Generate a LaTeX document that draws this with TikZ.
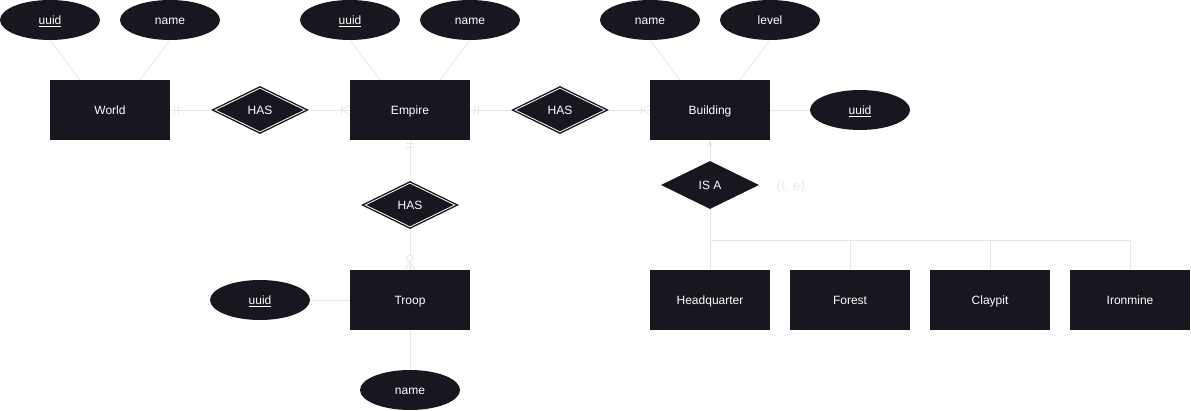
\documentclass[tikz,border=0pt]{standalone}
\usepackage{fontspec}
\setmainfont{Liberation Sans}
\usetikzlibrary{shapes.geometric,arrows.meta,calc}
\definecolor{ink}{HTML}{18161F}
\definecolor{edge}{HTML}{E6E6E6}
\definecolor{faint}{HTML}{EBEBEB}
\begin{document}
\begin{tikzpicture}[x=1pt,y=-1pt,
  font=\fontsize{12}{14}\selectfont,
  lbl/.style={text height=10.5pt, text depth=1pt},
  entity/.style={rectangle, fill=ink, minimum width=120pt, minimum height=60pt, text=white, inner sep=0pt, lbl},
  attr/.style={ellipse, fill=ink, minimum width=100pt, minimum height=40pt, text=white, inner sep=0pt, lbl},
  relout/.style={diamond, aspect=2, fill=ink, minimum width=98pt, minimum height=48pt, inner sep=0pt},
  relin/.style={diamond, aspect=2, draw=white, line width=0.8pt, fill=ink, minimum width=90pt, minimum height=44pt, inner sep=0pt, text=white, lbl},
  conn/.style={draw=edge, line width=0.8pt},
]
\useasboundingbox (0,0) rectangle (1191,411);

% entities
\node[entity] (world) at (110,110) {World};
\node[entity] (empire) at (410,110) {Empire};
\node[entity] (building) at (710,110) {Building};
\node[entity] (troop) at (410,300) {Troop};
\node[entity] (hq) at (710,300) {Headquarter};
\node[entity] (forest) at (850,300) {Forest};
\node[entity] (claypit) at (990,300) {Claypit};
\node[entity] (ironmine) at (1130,300) {Ironmine};

% attributes
\node[attr] (wuuid) at (50,20) {\underline{uuid}};
\node[attr] (wname) at (170,20) {name};
\node[attr] (euuid) at (350,20) {\underline{uuid}};
\node[attr] (ename) at (470,20) {name};
\node[attr] (bname) at (650,20) {name};
\node[attr] (blevel) at (770,20) {level};
\node[attr] (buuid) at (860,110) {\underline{uuid}};
\node[attr] (tuuid) at (260,300) {\underline{uuid}};
\node[attr] (tname) at (410,390) {name};

% relationships
\node[relout] (has1) at (260,110) {};
\node[relin] (has1i) at (260,110) {HAS};
\node[relout] (has2) at (560,110) {};
\node[relin] (has2i) at (560,110) {HAS};
\node[relout] (has3) at (410,205) {};
\node[relin] (has3i) at (410,205) {HAS};
\node[relout] (isa) at (710,185) {};
\node[text=white, lbl] (isat) at (710,185) {IS A};
\node[text=faint, anchor=west, font=\fontsize{14}{16}\selectfont, lbl] (te) at (773,186) {(t, e)};

% attribute connectors
\draw[conn] (wuuid.south) -- ([xshift=-30pt]world.north);
\draw[conn] (wname.south) -- ([xshift=30pt]world.north);
\draw[conn] (euuid.south) -- ([xshift=-30pt]empire.north);
\draw[conn] (ename.south) -- ([xshift=30pt]empire.north);
\draw[conn] (bname.south) -- ([xshift=-30pt]building.north);
\draw[conn] (blevel.south) -- ([xshift=30pt]building.north);
\draw[conn] (building.east) -- (buuid.west);
\draw[conn] (tuuid.east) -- (troop.west);
\draw[conn] (troop.south) -- (tname.north);

% relationship connectors
\draw[conn] (world.east) -- (has1.west);
\draw[conn] (has1.east) -- (empire.west);
\draw[conn] (empire.east) -- (has2.west);
\draw[conn] (has2.east) -- (building.west);
\draw[conn] (empire.south) -- (has3.north);
\draw[conn] (has3.south) -- (troop.north);

% cardinality marks
\draw[conn] ($(world.east)+(4,-4)$) -- ($(world.east)+(4,4)$);
\draw[conn] ($(world.east)+(8,-4)$) -- ($(world.east)+(8,4)$);
\draw[conn] ($(empire.east)+(4,-4)$) -- ($(empire.east)+(4,4)$);
\draw[conn] ($(empire.east)+(8,-4)$) -- ($(empire.east)+(8,4)$);
\draw[conn] ($(empire.south)+(-4,3)$) -- ($(empire.south)+(4,3)$);
\draw[conn] ($(empire.south)+(-4,7)$) -- ($(empire.south)+(4,7)$);
\draw[conn] ($(empire.west)+(-8,-4)$) -- ($(empire.west)+(-8,4)$);
\draw[conn] ($(empire.west)+(-8,0)$) -- ($(empire.west)+(0,-5)$);
\draw[conn] ($(empire.west)+(-8,0)$) -- ($(empire.west)+(0,5)$);
\draw[conn] ($(building.west)+(-8,-4)$) -- ($(building.west)+(-8,4)$);
\draw[conn] ($(building.west)+(-8,0)$) -- ($(building.west)+(0,-5)$);
\draw[conn] ($(building.west)+(-8,0)$) -- ($(building.west)+(0,5)$);
\draw[conn, fill=white] ($(troop.north)+(0,-11.5)$) circle (3.2pt);
\draw[conn] ($(troop.north)+(0,-8)$) -- ($(troop.north)+(-5,0)$);
\draw[conn] ($(troop.north)+(0,-8)$) -- ($(troop.north)+(5,0)$);

% IS A hierarchy
\draw[conn, -{Stealth[length=7pt,width=6pt]}] (isa.north) -- (building.south);
\coordinate (bus) at (710,240);
\draw[conn] (isa.south) -- (hq.north);
\draw[conn] (bus) -| (ironmine.north);
\draw[conn] (forest.north) -- (forest.north |- bus);
\draw[conn] (claypit.north) -- (claypit.north |- bus);
\end{tikzpicture}
\end{document}
